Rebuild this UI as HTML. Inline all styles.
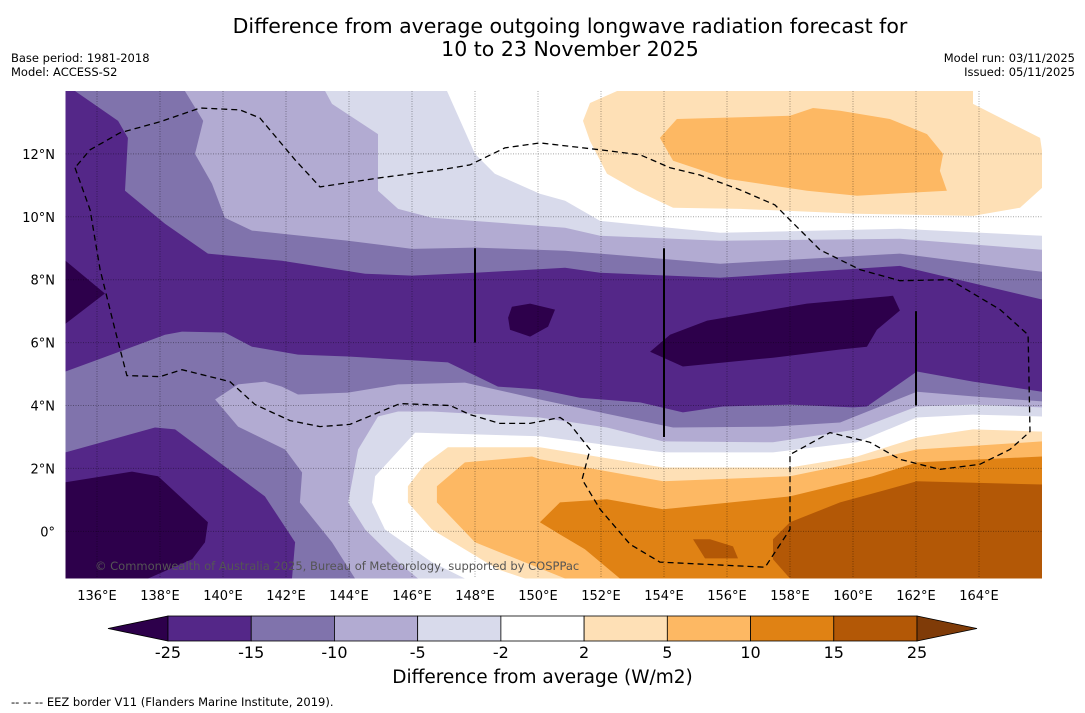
<!DOCTYPE html>
<html><head><meta charset="utf-8"><style>
body{margin:0;width:1085px;height:713px;background:#fff;font-family:"DejaVu Sans","Liberation Sans",sans-serif;overflow:hidden;position:relative}
.t{position:absolute;white-space:nowrap;color:#000}
</style></head><body>
<div class="t" style="left:0;width:1140px;text-align:center;top:15px;font-size:20.5px;line-height:23px">Difference from average outgoing longwave radiation forecast for<br>10 to 23 November 2025</div>
<div class="t" style="left:11px;top:51px;font-size:11.5px;line-height:14px">Base period: 1981-2018<br>Model: ACCESS-S2</div>
<div class="t" style="right:10px;top:51px;font-size:11.5px;line-height:14px;text-align:right">Model run: 03/11/2025<br>Issued: 05/11/2025</div>
<svg id="map" width="1085" height="713" style="position:absolute;left:0;top:0"></svg>
<div class="t" style="left:0;width:1085px;text-align:center;top:667px;font-size:18.5px">Difference from average (W/m2)</div>
<div class="t" style="left:11px;top:695px;font-size:11.5px">--  --  -- EEZ border V11 (Flanders Marine Institute, 2019).</div>
<script>
const lonMin=135, lonMax=166, latMin=-1.5, latMax=14;
const X0=65.5, X1=1042, Y0=91, Y1=578.5;
const xs=l=>X0+(l-lonMin)/(lonMax-lonMin)*(X1-X0);
const ys=a=>Y0+(latMax-a)/(latMax-latMin)*(Y1-Y0);
const FONT='DejaVu Sans, Liberation Sans, sans-serif';
const levelColors=["#2d004b","#542788","#8073ac","#b2abd2","#d8daeb","#ffffff","#fee0b6","#fdb863","#e08214","#b35806","#7f3b08"];
const levelLabels=["-25","-15","-10","-5","-2","2","5","10","15","25"];
const xTicks=[136,138,140,142,144,146,148,150,152,154,156,158,160,162,164];
const yTicks=[0,2,4,6,8,10,12];
const polyLe2=[[147.11,14],[148,12],[148.63,11.37],[150.06,10.73],[150.86,10.51],[151.97,9.87],[155.78,9.49],[161.49,9.62],[166,9.40],[166,3.65],[163.81,3.71],[162.03,3.62],[160.13,2.83],[157.46,2.51],[153.97,2.51],[150.06,3.02],[146.10,3.14],[144.83,1.75],[144.73,0.92],[145.14,0.06],[146.63,-0.98],[147.68,-1.5],[135,-1.5],[135,14]];
const polyLe5=[[143.24,14],[143.46,13.59],[144.92,12.63],[144.92,11.56],[144.92,10.83],[145.56,10.25],[146.63,9.97],[150.86,9.65],[151.97,9.40],[155.78,9.24],[161.49,9.30],[166,8.95],[166,3.94],[163.81,4.03],[162.03,3.97],[160.13,3.24],[157.46,2.83],[153.97,2.86],[152.19,3.30],[150.06,3.62],[146.63,3.81],[145.56,3.81],[144.92,3.65],[144.29,2.60],[143.97,0.92],[144.51,0.06],[145.56,-0.98],[146.19,-1.5],[135,-1.5],[135,14]];
const polyLe10=[[138.79,14],[139.37,13.05],[139.11,12.0],[139.65,11.05],[140.06,9.97],[140.92,9.56],[143.97,9.24],[146,8.98],[148,9.02],[150.86,8.92],[151.97,8.83],[155.78,8.51],[161.49,8.83],[166,8.25],[166,4.13],[163.81,4.29],[162.03,4.44],[159.59,3.46],[157.46,3.33],[154.29,3.30],[151.97,3.78],[150.06,4.19],[147.68,4.73],[145.56,4.67],[143.97,4.41],[142.38,4.35],[141.87,4.60],[141.33,4.76],[140.48,4.67],[139.75,4.19],[140.48,3.33],[141.97,2.60],[142.51,1.87],[142.44,0.92],[143.46,-0.35],[144.19,-1.5],[135,-1.5],[135,14]];
const polyLe15N=[[135.30,14],[136.67,13.05],[136.98,12.51],[136.89,10.83],[138.16,9.78],[139.52,8.83],[141.87,8.60],[144.51,8.19],[146,8.13],[148,8.22],[150.86,8.38],[151.97,8.22],[155.78,8.06],[161.49,8.44],[166,7.37],[166,4.44],[163.81,4.76],[162.03,5.08],[160.44,3.97],[160,3.94],[158,4.03],[155.87,3.97],[154.60,3.78],[153.24,4.10],[151.33,4.25],[150.06,4.51],[148.73,4.60],[147.14,5.37],[143.97,5.56],[142.38,5.62],[140.92,5.87],[140.06,6.32],[138.70,6.35],[138.16,6.25],[136.03,5.46],[135,5.08],[135,14]];
const polyLe15S=[[135,2.51],[137.84,3.30],[138.48,3.24],[141.33,1.11],[142.29,-0.35],[142.19,-1.5],[135,-1.5]];
const polyLe25A=[[135,8.60],[136.25,7.56],[135,6.60]];
const polyLe25B=[[149.05,6.79],[149.17,7.14],[149.75,7.24],[150.54,7.05],[150.32,6.51],[149.75,6.19],[149.11,6.41]];
const polyLe25C=[[153.56,5.71],[154.19,6.25],[155.37,6.70],[158.54,7.24],[161.27,7.49],[161.49,7.02],[160.76,6.41],[160.44,5.87],[159.59,5.78],[157.46,5.52],[154.60,5.24]];
const polyLe25D=[[135,1.56],[137.11,1.90],[137.94,1.75],[139.52,0.29],[139.43,-0.35],[139.02,-0.89],[137.62,-1.5],[135,-1.5]];
const polyGe2N=[[151.43,13.05],[151.65,13.62],[152.51,14],[163.81,14],[163.81,13.59],[165.94,12.51],[166,12.10],[166,10.92],[165.30,10.29],[163.81,10.03],[160.13,10.10],[156.41,10.25],[154.29,10.29],[153.14,10.83],[152.19,11.37],[151.65,12.41]];
const polyGe5N=[[153.87,12.51],[154.41,13.11],[158,13.21],[158.73,13.46],[159.59,13.37],[161.17,13.11],[162.35,12.63],[162.86,12.0],[162.76,11.46],[162.98,10.83],[160.13,10.67],[158.54,10.83],[156,11.21],[154.29,11.78]];
const polyGe2S=[[145.87,1.43],[146.41,2.13],[147.14,2.67],[150.06,2.67],[153.97,2.03],[158,2.03],[160.13,2.38],[162.03,2.98],[163.81,3.24],[166,3.17],[166,-1.5],[149.59,-1.5],[148.73,-1.21],[146.63,0.06],[145.87,0.92]];
const polyGe5S=[[146.79,1.43],[147.68,2.19],[149.81,2.38],[150.06,2.29],[153.97,1.59],[158,1.75],[160.63,2.29],[162.03,2.60],[166,2.86],[166,-1.5],[150.86,-1.5],[148,-0.35],[146.79,0.92]];
const polyGe10=[[150.06,0.29],[150.70,0.92],[152.19,1.02],[153.97,0.70],[158,1.11],[160.63,1.75],[162.03,2.19],[166,2.38],[166,-1.5],[152.60,-1.5],[151.49,-0.57],[150.70,-0.10]];
const polyGe15=[[157.46,-0.25],[158,0.29],[159.59,0.92],[162.03,1.59],[166,1.49],[166,-1.5],[158,-1.5],[157.46,-0.89]];
const polyGe15B=[[154.92,-0.25],[155.46,-0.25],[156.19,-0.48],[156.35,-0.86],[155.30,-0.86]];
const eezLine=[[135.30,11.56],[135.78,10.22],[136.10,8.32],[136.57,6.41],[136.95,4.95],[138.0,4.92],[138.70,5.14],[140.22,4.76],[141.02,4.03],[142.13,3.52],[143.08,3.33],[144.03,3.40],[145.62,4.06],[147.21,4.0],[147.84,3.71],[148.79,3.43],[149.75,3.43],[150.70,3.62],[151.02,3.40],[151.65,2.60],[151.40,1.65],[151.97,0.70],[152.92,-0.41],[153.87,-0.98],[157.21,-1.14],[158.0,0.06],[158.0,2.44],[159.27,3.14],[160.54,2.83],[161.49,2.29],[162.76,1.97],[164.03,2.13],[164.98,2.60],[165.62,3.17],[165.56,6.25],[164.67,7.05],[163.08,8.0],[161.49,7.97],[160.22,8.32],[158.95,8.95],[158.0,9.90],[157.52,10.38],[156.41,10.86],[155.14,11.33],[154.19,11.56],[153.24,11.97],[151.97,12.13],[150.06,12.35],[148.95,12.19],[147.84,11.65],[146.89,11.49],[144.98,11.24],[143.08,10.95],[142.29,11.81],[141.17,13.14],[140.54,13.40],[139.27,13.46],[138.0,13.02],[136.73,12.67],[135.78,12.13],[135.30,11.56]];
const vLines=[[148,9,6],[154,9,3],[162,7,4]];

const NS="http://www.w3.org/2000/svg";
const svg=document.getElementById('map');
function mk(tag,attrs,parent){const e=document.createElementNS(NS,tag);for(const k in attrs)e.setAttribute(k,attrs[k]);(parent||svg).appendChild(e);return e;}
const ptsStr=p=>p.map(q=>xs(q[0]).toFixed(1)+","+ys(q[1]).toFixed(1)).join(" ");
const defs=mk('defs',{});const cp=mk('clipPath',{id:'clip'},defs);mk('rect',{x:X0,y:Y0,width:X1-X0,height:Y1-Y0},cp);
const g=mk('g',{'clip-path':'url(#clip)'});
const bg=mk('rect',{x:X0,y:Y0,width:X1-X0,height:Y1-Y0,fill:'#fff'},g);


const layers=[[polyLe2,4,'contour-minus2'],[polyLe5,3,'contour-minus5'],[polyLe10,2,'contour-minus10'],[polyLe15N,1,'contour-minus15-north'],[polyLe15S,1,'contour-minus15-south'],[polyLe25A,0,'contour-minus25-west'],[polyLe25B,0,'contour-minus25-blob'],[polyLe25C,0,'contour-minus25-band'],[polyLe25D,0,'contour-minus25-southwest'],[polyGe2N,6,'contour-plus2-north'],[polyGe5N,7,'contour-plus5-north'],[polyGe2S,6,'contour-plus2-south'],[polyGe5S,7,'contour-plus5-south'],[polyGe10,8,'contour-plus10'],[polyGe15,9,'contour-plus15'],[polyGe15B,9,'contour-plus15-blob']];
layers.forEach(L=>{const p=mk('polygon',{points:ptsStr(L[0]),fill:levelColors[L[1]]},g);

});
xTicks.forEach(t=>{const l=mk('line',{x1:xs(t),x2:xs(t),y1:Y0,y2:Y1,stroke:'rgba(0,0,0,0.35)','stroke-width':1,'stroke-dasharray':'1,1.5'},g);

});
yTicks.forEach(t=>{const l=mk('line',{x1:X0,x2:X1,y1:ys(t),y2:ys(t),stroke:'rgba(0,0,0,0.35)','stroke-width':1,'stroke-dasharray':'1,1.5'},g);

});
const eez=mk('polyline',{points:ptsStr(eezLine),fill:'none',stroke:'#000','stroke-width':1.3,'stroke-dasharray':'6,4'},g);


vLines.forEach(v=>{const l=mk('line',{x1:xs(v[0]),x2:xs(v[0]),y1:ys(v[1]),y2:ys(v[2]),stroke:'#000','stroke-width':2},g);

});
const cr=mk('text',{x:95,y:570,'font-size':11.5,fill:'#555','font-family':FONT},g);
cr.textContent='© Commonwealth of Australia 2025, Bureau of Meteorology, supported by COSPPac';


xTicks.forEach(t=>{const e=mk('text',{x:xs(t),y:600,'font-size':13,'text-anchor':'middle','font-family':FONT});e.textContent=t+'°E';

});
yTicks.forEach(t=>{const e=mk('text',{x:55,y:ys(t)+5,'font-size':13,'text-anchor':'end','font-family':FONT});e.textContent=t===0?'0°':t+'°N';

});
const cbL=168,cbR=917,cbT=616,cbB=641,cbW=(cbR-cbL)/(levelColors.length-2);
const lt=mk('polygon',{points:`108,${(cbT+cbB)/2} ${cbL},${cbT} ${cbL},${cbB}`,fill:levelColors[0],stroke:'#000','stroke-width':0.8});


for(let i=1;i<levelColors.length-1;i++){const r=mk('rect',{x:cbL+(i-1)*cbW,y:cbT,width:cbW,height:cbB-cbT,fill:levelColors[i],stroke:'#000','stroke-width':0.8});

}
const rt=mk('polygon',{points:`977,${(cbT+cbB)/2} ${cbR},${cbT} ${cbR},${cbB}`,fill:levelColors[levelColors.length-1],stroke:'#000','stroke-width':0.8});


levelLabels.forEach((t,i)=>{const e=mk('text',{x:cbL+i*cbW,y:658,'font-size':16,'text-anchor':'middle','font-family':FONT});e.textContent=t;

});
</script>
</body></html>
